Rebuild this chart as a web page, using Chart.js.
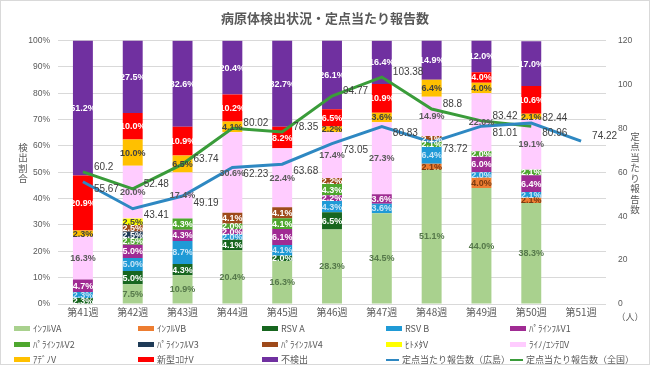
<!DOCTYPE html>
<html>
<head>
<meta charset="utf-8">
<script src="https://cdn.jsdelivr.net/npm/chart.js@4.4.1/dist/chart.umd.min.js"></script>
<style>
  html, body { margin: 0; padding: 0; background: #fff; }
  #frame {
    width: 650px; height: 365px; box-sizing: border-box;
    border: 1px solid #d9d9d9; position: relative; overflow: hidden;
    font-family: 'Noto Sans CJK JP', 'Noto Sans', sans-serif;
  }
  #chart-box { position: absolute; left: 0; top: 0; width: 648px; height: 322px; }
  #legend {
    position: absolute; left: 13px; top: 320px;
    display: grid; grid-template-columns: repeat(5, 124px); grid-auto-rows: 15.5px;
    font-size: 9px; color: #595959;
  }
  .lg-item { display: flex; align-items: center; white-space: nowrap; }
  .lg-box { width: 16px; height: 5px; margin-right: 3px; }
  .lg-line { width: 16px; height: 2.5px; margin-right: 3px; }
</style>
</head>
<body>
<div id="frame">
  <div id="chart-box"><canvas id="mainChart"></canvas></div>
  <div id="legend"></div>
</div>
<script>
// Categories
const weeks = ['第41週', '第42週', '第43週', '第44週', '第45週', '第46週', '第47週', '第48週', '第49週', '第50週', '第51週'];

// Detection ratio (%) by pathogen
const fluA   = [0, 7.5, 10.9, 20.4, 16.3, 28.3, 34.5, 51.1, 44.0, 38.3, null];
const fluB   = [0, 0, 0, 0, 0, 0, 0, 2.1, 4.0, 2.1, null];
const rsvA   = [2.3, 5.0, 4.3, 4.1, 2.0, 6.5, 0, 0, 0, 0, null];
const rsvB   = [2.3, 5.0, 8.7, 2.0, 4.1, 4.3, 3.6, 6.4, 2.0, 2.1, null];
const para1  = [4.7, 5.0, 4.3, 2.0, 6.1, 2.2, 3.6, 0, 6.0, 6.4, null];
const para2  = [0, 2.5, 4.3, 2.0, 4.1, 4.3, 0, 2.1, 2.0, 2.1, null];
const para3  = [0, 2.5, 0, 0, 0, 0, 0, 0, 0, 0, null];
const para4  = [0, 2.5, 0, 4.1, 4.1, 2.2, 0, 2.1, 0, 0, null];
const hmpv   = [0, 2.5, 0, 0, 0, 0, 0, 0, 0, 0, null];
const rhino  = [16.3, 20.0, 17.4, 30.6, 22.4, 17.4, 27.3, 14.9, 22.0, 19.1, null];
const adeno  = [2.3, 10.0, 6.5, 4.1, 0, 2.2, 3.6, 6.4, 4.0, 2.1, null];
const covid  = [20.9, 10.0, 10.9, 10.2, 8.2, 6.5, 10.9, 0, 4.0, 10.6, null];
const notDet = [51.2, 27.5, 32.6, 20.4, 32.7, 26.1, 16.4, 14.9, 12.0, 17.0, null];

// Reports per sentinel site
const perSiteHiroshima = [55.67, 43.41, 49.19, 62.23, 63.68, 73.05, 80.83, 73.72, 81.01, 82.44, 74.22];
const perSiteNational  = [60.2, 52.48, 63.74, 80.02, 78.35, 94.77, 103.38, 88.8, 83.42, 80.96, null];

// Tick labels
const leftTicks = [0, 10, 20, 30, 40, 50, 60, 70, 80, 90, 100];
const rightTicks = [0, 20, 40, 60, 80, 100, 120];

const FONT = "'Noto Sans CJK JP', 'Noto Sans', sans-serif";
const TEXT = '#595959';

const barSeries = [
  { label: 'ｲﾝﾌﾙVA',      data: fluA,   color: '#a9d18e', labelColor: '#55784a' },
  { label: 'ｲﾝﾌﾙVB',      data: fluB,   color: '#ed7d31', labelColor: '#7a3a10' },
  { label: 'RSV A',       data: rsvA,   color: '#17661f', labelColor: '#ffffff' },
  { label: 'RSV B',       data: rsvB,   color: '#1f9ad6', labelColor: '#c9e5f6' },
  { label: 'ﾊﾟﾗｲﾝﾌﾙV1',   data: para1,  color: '#a02b93', labelColor: '#ffffff' },
  { label: 'ﾊﾟﾗｲﾝﾌﾙV2',   data: para2,  color: '#4ea72e', labelColor: '#ffffff' },
  { label: 'ﾊﾟﾗｲﾝﾌﾙV3',   data: para3,  color: '#1f3b57', labelColor: '#ffffff' },
  { label: 'ﾊﾟﾗｲﾝﾌﾙV4',   data: para4,  color: '#9e4a1b', labelColor: '#ffffff' },
  { label: 'ﾋﾄﾒﾀV',       data: hmpv,   color: '#ffff00', labelColor: '#404040' },
  { label: 'ﾗｲﾉ/ｴﾝﾃﾛV',   data: rhino,  color: '#ffccff', labelColor: '#595959' },
  { label: 'ｱﾃﾞﾉV',       data: adeno,  color: '#ffc000', labelColor: '#404040' },
  { label: '新型ｺﾛﾅV',     data: covid,  color: '#ff0000', labelColor: '#ffffff' },
  { label: '不検出',       data: notDet, color: '#7030a0', labelColor: '#ffffff' }
];

const lineSeries = [
  { label: '定点当たり報告数（広島）', data: perSiteHiroshima, color: '#2e88c2' },
  { label: '定点当たり報告数（全国）', data: perSiteNational,  color: '#3a9c3a' }
];

// Percent labels inside segments and value labels beside line points
const valueLabels = {
  id: 'valueLabels',
  afterDatasetsDraw(chart) {
    const ctx = chart.ctx;
    ctx.save();
    ctx.textAlign = 'center';
    ctx.textBaseline = 'middle';
    chart.data.datasets.forEach((ds, i) => {
      const meta = chart.getDatasetMeta(i);
      if (ds.type !== 'bar') return;
      ctx.font = `bold 9px 'Liberation Sans', Arial, sans-serif`;
      ctx.fillStyle = ds.labelColor;
      meta.data.forEach((el, j) => {
        const v = ds.data[j];
        if (!v) return;
        ctx.fillText(v.toFixed(1) + '%', el.x, (el.y + el.base) / 2 + 0.5);
      });
    });
    // line labels: the higher of the two goes above, the lower below
    const hIdx = chart.data.datasets.findIndex(d => d.label === lineSeries[0].label);
    const nIdx = chart.data.datasets.findIndex(d => d.label === lineSeries[1].label);
    ctx.font = `10px 'Liberation Sans', Arial, sans-serif`;
    ctx.fillStyle = '#404040';
    ctx.textAlign = 'left';
    [hIdx, nIdx].forEach((idx, k) => {
      const other = k === 0 ? nIdx : hIdx;
      const ds = chart.data.datasets[idx];
      const meta = chart.getDatasetMeta(idx);
      meta.data.forEach((pt, j) => {
        const v = ds.data[j];
        if (v == null) return;
        const ov = chart.data.datasets[other].data[j];
        const dy = (ov == null || v >= ov) ? -5 : 7;
        ctx.fillText(String(v), pt.x + 11, pt.y + dy);
      });
    });
    ctx.restore();
  }
};

// Upright stacked axis titles and the unit mark
const axisTitles = {
  id: 'axisTitles',
  afterDraw(chart) {
    const ctx = chart.ctx;
    const area = chart.chartArea;
    ctx.save();
    ctx.fillStyle = TEXT;
    ctx.textAlign = 'center';
    ctx.textBaseline = 'middle';
    ctx.font = `9.5px ${FONT}`;
    const drawVertical = (text, x, cy) => {
      const step = 10.5;
      const chars = Array.from(text);
      const y0 = cy - (chars.length - 1) * step / 2;
      chars.forEach((c, i) => ctx.fillText(c, x, y0 + i * step));
    };
    drawVertical('検出割合', 22, 162);
    drawVertical('定点当たり報告数', 634, 172);
    ctx.font = `9px ${FONT}`;
    ctx.fillText('（人）', 629, area.bottom + 13);
    ctx.restore();
  }
};

function buildDatasets() {
  const bars = barSeries.map(s => ({
    type: 'bar',
    label: s.label,
    data: s.data,
    backgroundColor: s.color,
    labelColor: s.labelColor,
    yAxisID: 'y',
    stack: 'ratio',
    order: 1,
    categoryPercentage: 1,
    barPercentage: 0.4
  }));
  const lines = lineSeries.map(s => ({
    type: 'line',
    label: s.label,
    data: s.data,
    borderColor: s.color,
    backgroundColor: s.color,
    borderWidth: 3,
    pointRadius: 0,
    tension: 0,
    yAxisID: 'y1',
    order: 0
  }));
  return bars.concat(lines);
}

function renderLegend() {
  const box = document.getElementById('legend');
  const items = barSeries.map(s => `
    <div class="lg-item"><span class="lg-box" style="background:${s.color}"></span>${s.label}</div>`)
    .concat(lineSeries.map(s => `
    <div class="lg-item"><span class="lg-line" style="background:${s.color}"></span>${s.label}</div>`));
  box.innerHTML = items.join('');
}

function renderChart() {
  const ctx = document.getElementById('mainChart').getContext('2d');
  new Chart(ctx, {
    data: { labels: weeks, datasets: buildDatasets() },
    plugins: [valueLabels, axisTitles],
    options: {
      responsive: true,
      maintainAspectRatio: false,
      animation: false,
      layout: { padding: { top: 0, bottom: 0, left: 0, right: 0 } },
      plugins: {
        legend: { display: false },
        tooltip: { enabled: false },
        title: {
          display: true,
          text: '病原体検出状況・定点当たり報告数',
          color: TEXT,
          font: { family: FONT, size: 13, weight: 'bold' },
          padding: { top: 9, bottom: 15 }
        }
      },
      scales: {
        x: {
          stacked: true,
          grid: { display: false, drawTicks: false },
          border: { display: false },
          ticks: { color: TEXT, font: { family: FONT, size: 10 }, padding: 2 },
          afterFit: s => { s.height = 19; }
        },
        y: {
          position: 'left',
          stacked: true,
          min: 0,
          max: 100,
          afterBuildTicks: s => { s.ticks = leftTicks.map(v => ({ value: v })); },
          ticks: {
            color: TEXT,
            font: { family: "'Liberation Sans', Arial, sans-serif", size: 8.5 },
            padding: 8,
            callback: v => v + '%'
          },
          grid: { color: '#d9d9d9', drawTicks: false },
          border: { display: false },
          afterFit: s => { s.width = 57; }
        },
        y1: {
          position: 'right',
          stacked: false,
          min: 0,
          max: 120,
          afterBuildTicks: s => { s.ticks = rightTicks.map(v => ({ value: v })); },
          ticks: {
            color: TEXT,
            font: { family: "'Liberation Sans', Arial, sans-serif", size: 8.5 },
            padding: 12
          },
          grid: { drawOnChartArea: false, drawTicks: false },
          border: { display: false },
          afterFit: s => { s.width = 43; }
        }
      }
    }
  });
}

renderLegend();
renderChart();
</script>
</body>
</html>
